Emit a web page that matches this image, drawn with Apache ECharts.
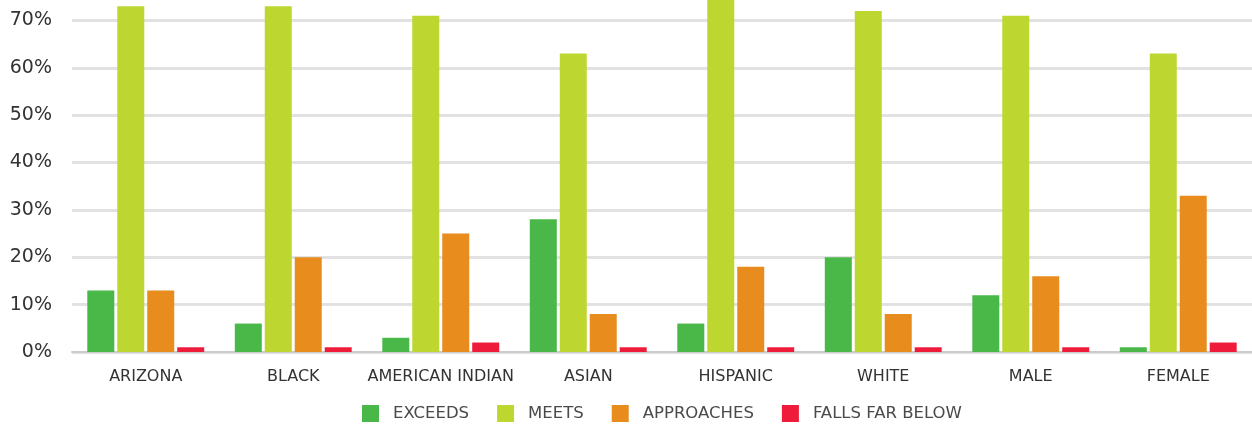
<!DOCTYPE html>
<html>
<head>
<meta charset="utf-8">
<script src="https://cdn.jsdelivr.net/npm/echarts@6/dist/echarts.min.js"></script>
<style>
html,body{margin:0;padding:0;background:#fff;overflow:hidden;}
/* the source image is cut at the top: the 80% line sits just above the frame */
#chart{width:1252px;height:452px;margin-top:-27px;}
</style>
</head>
<body>
<div id="chart"></div>
<script>
var categories = ['ARIZONA','BLACK','AMERICAN INDIAN','ASIAN','HISPANIC','WHITE','MALE','FEMALE'];
var exceeds = [13, 6, 3, 28, 6, 20, 12, 1];
var meets = [73, 73, 71, 63, 75, 72, 71, 63];
var approaches = [13, 20, 25, 8, 18, 8, 16, 33];
var fallsFarBelow = [1, 1, 2, 1, 1, 1, 1, 2];
var seriesNames = ['EXCEEDS','MEETS','APPROACHES','FALLS FAR BELOW'];
var colors = ['#4ab749','#bed630','#e88c1e','#ee1c3a'];

var myChart = echarts.init(document.getElementById('chart'));
var font = 'DejaVu Sans';

function bar(name, data){
    return {
        name: name,
        type: 'bar',
        data: data,
        barWidth: 27,
        barGap: '11%'
    };
}

myChart.setOption({
    animation: false,
    color: colors,
    grid: {left: 72, right: 0, top: 0, bottom: 73, outerBoundsMode: 'none'},
    legend: {
        bottom: 3,
        left: 362,
        icon: 'rect',
        itemWidth: 17,
        itemHeight: 17,
        itemGap: 28,
        padding: 0,
        textStyle: {fontFamily: font, fontSize: 16.5, color: '#4a4a4a', padding: [2,0,0,9]},
        data: seriesNames
    },
    xAxis: {
        type: 'category',
        data: categories,
        axisTick: {show: false},
        axisLine: {lineStyle: {color: '#cccccc', width: 2}},
        axisLabel: {fontFamily: font, fontSize: 16, color: '#333', margin: 17, interval: 0}
    },
    yAxis: {
        type: 'value',
        min: 0,
        max: 80,
        interval: 10,
        axisLabel: {
            fontFamily: font, fontSize: 19, color: '#333', margin: 20,
            formatter: function(v){ return v + '%'; }
        },
        splitLine: {lineStyle: {color: '#e2e2e2', width: 3}}
    },
    series: [
        bar(seriesNames[0], exceeds),
        bar(seriesNames[1], meets),
        bar(seriesNames[2], approaches),
        bar(seriesNames[3], fallsFarBelow)
    ]
});
</script>
</body>
</html>
